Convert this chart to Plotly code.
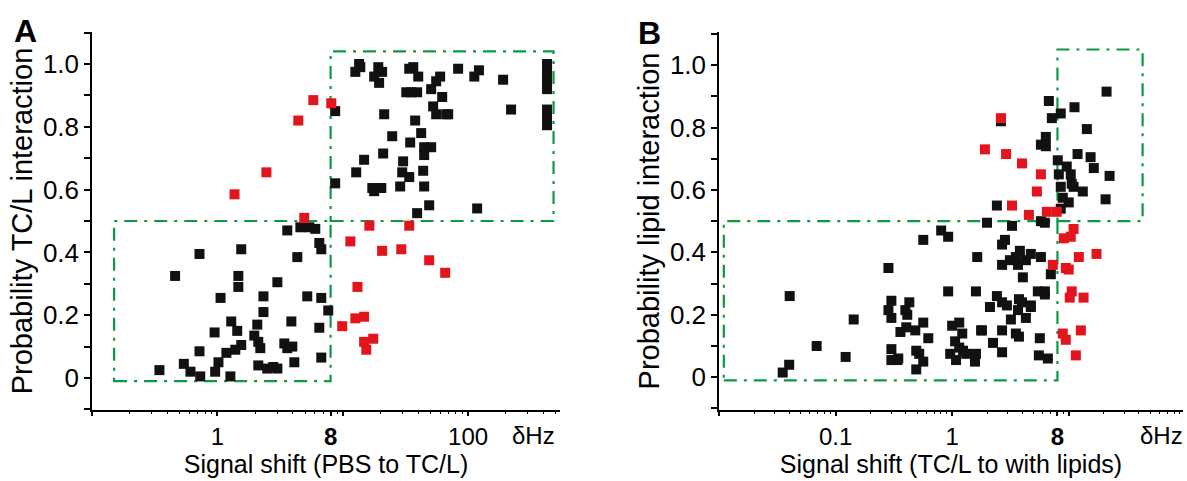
import plotly.graph_objects as go

# ---------------- Panel A data ----------------
a_black_x = [13.5, 13.8, 12.6, 19.2, 20.6, 17.8, 19.5, 36.5, 33.9, 40.0, 59.8, 55.6, 50.7, 83.2, 122, 112, 190,
             32.1, 35.1, 39.2, 62.1, 8.7, 21.4, 52.6, 55.6, 66.8, 69.3, 220, 37.8,
             426, 426, 426, 426, 426, 426, 426, 426,
             24.8, 42.2, 34.5, 44.6, 50.7, 44.6, 14.8, 21.0, 30.3, 12.8, 29.8, 33.9, 43.8, 8.7, 17.2, 17.8,
             20.3, 28.7, 44.6, 48.9, 39.2, 118,
             3.61, 4.59, 5.41, 6.04, 6.50, 6.74, 0.72, 1.55, 4.34, 0.46, 1.47, 1.47, 3.01, 1.06, 2.33, 5.21,
             6.74, 2.33, 7.66, 1.29, 1.44, 0.95, 2.08, 3.89, 6.50, 1.97, 2.12, 2.20, 3.42, 3.61, 3.96, 1.55,
             1.39, 1.18, 0.72, 1.02, 4.11, 6.74, 0.54, 0.345, 0.61, 0.73, 0.96, 1.27, 2.12, 2.50, 2.79, 3.01]
a_black_y = [1.00, 0.99, 0.975, 0.99, 0.975, 0.96, 0.94, 0.99, 0.985, 0.96, 0.96, 0.945, 0.92, 0.985, 0.98, 0.96, 0.95,
             0.91, 0.91, 0.91, 0.895, 0.85, 0.84, 0.865, 0.84, 0.84, 0.84, 0.855, 0.82,
             1.00, 0.98, 0.96, 0.94, 0.92, 0.855, 0.83, 0.805,
             0.77, 0.78, 0.75, 0.735, 0.735, 0.71, 0.695, 0.715, 0.69, 0.655, 0.655, 0.64, 0.66, 0.62, 0.605, 0.595,
             0.605, 0.61, 0.61, 0.55, 0.525, 0.54,
             0.47, 0.48, 0.48, 0.475, 0.43, 0.41, 0.395, 0.41, 0.385, 0.325, 0.325, 0.29, 0.305, 0.255, 0.26, 0.26,
             0.255, 0.21, 0.215, 0.18, 0.15, 0.145, 0.17, 0.18, 0.16, 0.135, 0.115, 0.095, 0.11, 0.095, 0.10, 0.105,
             0.09, 0.08, 0.085, 0.05, 0.05, 0.065, 0.045, 0.025, 0.02, 0.005, 0.02, 0.005, 0.04, 0.03, 0.035, 0.03]
a_red_x = [5.82, 8.10, 4.42, 2.46, 1.37, 4.93, 16.3, 33.9, 11.5, 20.6, 29.3, 48.9, 65.6, 13.1, 12.6, 14.8, 9.9,
           17.5, 14.8, 15.4]
a_red_y = [0.885, 0.875, 0.82, 0.655, 0.585, 0.51, 0.485, 0.485, 0.435, 0.405, 0.41, 0.375, 0.335, 0.29, 0.19,
           0.195, 0.165, 0.125, 0.115, 0.09]

# ---------------- Panel B data ----------------
b_black_x = [21.1, 6.75, 11.2, 8.54, 7.16, 2.62, 14.3, 6.36, 5.77, 6.36, 11.9, 15.4, 16.4, 22.4, 8.05, 9.61, 8.22,
             10.4, 8.54, 10.6, 11.0, 13.2, 20.7, 8.89, 10.0, 8.54, 2.42, 1.99, 3.26, 5.77, 6.24, 0.805, 0.924,
             0.565, 2.84, 2.68, 1.64, 3.81, 3.52, 3.13, 3.67, 4.29, 4.73, 5.77, 2.68, 4.04, 7.02, 5.43, 6.24, 6.24,
             2.42, 2.68, 2.95, 2.11, 3.74, 3.97, 4.73, 4.73, 3.67, 4.29, 3.19, 1.80, 2.68, 3.52, 3.74, 5.65, 2.24,
             2.68, 5.54, 6.62, 0.284, 0.0404, 0.143, 0.0688, 0.122, 0.040, 0.0352, 0.301, 0.284, 0.301, 0.397,
             0.429, 0.412, 0.404, 0.360, 0.483, 0.565, 0.624, 0.301, 0.301, 0.339, 0.345, 0.492, 0.522, 0.565,
             0.492, 0.924, 1.60, 1.00, 1.15, 1.22, 1.06, 1.15, 1.24, 1.32, 0.962, 1.08, 1.60, 1.57, 1.77]
b_black_y = [0.915, 0.885, 0.865, 0.845, 0.83, 0.82, 0.795, 0.77, 0.745, 0.74, 0.715, 0.705, 0.67, 0.645, 0.695,
             0.675, 0.65, 0.65, 0.61, 0.62, 0.61, 0.595, 0.57, 0.575, 0.56, 0.54, 0.55, 0.495, 0.485, 0.50, 0.495,
             0.47, 0.45, 0.44, 0.44, 0.425, 0.385, 0.405, 0.385, 0.375, 0.36, 0.375, 0.395, 0.385, 0.36, 0.32,
             0.33, 0.275, 0.275, 0.265, 0.26, 0.24, 0.23, 0.225, 0.25, 0.24, 0.23, 0.225, 0.215, 0.19, 0.185, 0.15,
             0.15, 0.14, 0.13, 0.125, 0.11, 0.08, 0.07, 0.06, 0.35, 0.26, 0.185, 0.10, 0.065, 0.04, 0.015, 0.245,
             0.215, 0.19, 0.215, 0.24, 0.20, 0.16, 0.145, 0.15, 0.175, 0.125, 0.09, 0.055, 0.055, 0.06, 0.085,
             0.075, 0.05, 0.025, 0.275, 0.275, 0.165, 0.175, 0.14, 0.115, 0.095, 0.085, 0.075, 0.075, 0.055, 0.075,
             0.05, 0.15]
b_red_x = [2.62, 1.91, 2.90, 3.97, 5.77, 5.33, 3.26, 4.55, 6.49, 7.89, 11.0, 9.06, 10.4, 12.2, 17.3, 7.30, 9.43,
           10.0, 10.6, 10.2, 13.4, 8.89, 12.7, 9.43, 11.5]
b_red_y = [0.83, 0.73, 0.715, 0.685, 0.65, 0.595, 0.55, 0.52, 0.53, 0.53, 0.475, 0.445, 0.45, 0.385, 0.395, 0.36,
           0.35, 0.345, 0.275, 0.255, 0.255, 0.14, 0.15, 0.12, 0.07]

# tick labels
a_tickvals = [0.1, 1, 8, 10, 100]
a_ticktext = ["", "1", "<b>8</b>", "", "100"]
b_tickvals = [0.01, 0.1, 1, 8, 10, 100]
b_ticktext = ["", "0.1", "1", "<b>8</b>", "", ""]
y_tickvals = [0, 0.2, 0.4, 0.6, 0.8, 1.0]
y_ticktext = ["0", "0.2", "0.4", "0.6", "0.8", "1.0"]

FONT = "Liberation Sans, Arial, sans-serif"
FS_TICK = 26
FS_XTICK = 24
FS_XT = 25
FS_YT = 29
BLACK = "#111111"
RED = "#e3141d"
GREEN = "#0a9a44"

def minors(lo, hi):
    out = []
    d = lo
    while d < hi:
        for m in range(2, 10):
            v = m * d
            if v <= hi:
                out.append(v)
        d *= 10
    return out

fig = go.Figure()
msz = 10
fig.add_trace(go.Scatter(x=a_black_x, y=a_black_y, mode="markers", xaxis="x", yaxis="y",
                         marker=dict(symbol="square", size=msz, color=BLACK), showlegend=False))
fig.add_trace(go.Scatter(x=a_red_x, y=a_red_y, mode="markers", xaxis="x", yaxis="y",
                         marker=dict(symbol="square", size=msz, color=RED), showlegend=False))
fig.add_trace(go.Scatter(x=b_black_x, y=b_black_y, mode="markers", xaxis="x2", yaxis="y2",
                         marker=dict(symbol="square", size=msz, color=BLACK), showlegend=False))
fig.add_trace(go.Scatter(x=b_red_x, y=b_red_y, mode="markers", xaxis="x2", yaxis="y2",
                         marker=dict(symbol="square", size=msz, color=RED), showlegend=False))

axis_common = dict(showline=True, linecolor="black", linewidth=1.5, ticks="outside", tickcolor="black",
                   tickwidth=1.5, showgrid=False, zeroline=False)
xfont = dict(family=FONT, size=FS_XTICK, color="black")
yfont = dict(family=FONT, size=FS_TICK, color="black")

fig.update_layout(
    width=1187, height=481,
    margin=dict(l=92, r=4, t=32, b=71),
    paper_bgcolor="white", plot_bgcolor="white",
    font=dict(family=FONT, size=FS_TICK, color="black"),
    xaxis=dict(type="log", domain=[0, 0.429], range=[-1, 2.733], tickmode="array",
               tickvals=a_tickvals, ticktext=a_ticktext, ticklen=4, tickfont=xfont,
               minor=dict(tickmode="array", tickvals=minors(0.1, 500), ticklen=2.5, tickcolor="black", tickwidth=1.2),
               title=dict(text="Signal shift (PBS to TC/L)", font=dict(family=FONT, size=FS_XT), standoff=3),
               anchor="y", **axis_common),
    yaxis=dict(domain=[0, 1], range=[-0.102, 1.102], tickmode="array", tickvals=y_tickvals,
               ticktext=y_ticktext, ticklen=6, tickfont=yfont,
               minor=dict(dtick=0.1, tick0=0, ticklen=6, tickcolor="black", tickwidth=1.5),
               title=dict(text="Probability TC/L interaction", font=dict(family=FONT, size=FS_YT), standoff=2),
               anchor="x", **axis_common),
    xaxis2=dict(type="log", domain=[0.5747, 1], range=[-2, 1.98], tickmode="array",
                tickvals=b_tickvals, ticktext=b_ticktext, ticklen=4, tickfont=xfont,
                minor=dict(tickmode="array", tickvals=minors(0.01, 100), ticklen=2.5, tickcolor="black", tickwidth=1.2),
                title=dict(text="Signal shift (TC/L to with lipids)", font=dict(family=FONT, size=FS_XT), standoff=3),
                anchor="y2", **axis_common),
    yaxis2=dict(domain=[0, 1], range=[-0.105, 1.106], tickmode="array", tickvals=y_tickvals,
                ticktext=y_ticktext, ticklen=6, tickfont=yfont,
                minor=dict(dtick=0.1, tick0=0, ticklen=6, tickcolor="black", tickwidth=1.5),
                title=dict(text="Probability lipid interaction", font=dict(family=FONT, size=FS_YT), standoff=2),
                anchor="x2", **axis_common),
)

# green dash-dot boxes
box = dict(type="rect", line=dict(color=GREEN, width=2.2, dash="13px,7px,3px,7px"),
           fillcolor="rgba(0,0,0,0)", layer="below")
fig.add_shape(xref="x", yref="y", x0=0.15, x1=8, y0=-0.01, y1=0.5, **box)
fig.add_shape(xref="x", yref="y", x0=8, x1=480, y0=0.5, y1=1.04, **box)
fig.add_shape(xref="x2", yref="y2", x0=0.011, x1=8, y0=-0.01, y1=0.5, **box)
fig.add_shape(xref="x2", yref="y2", x0=8, x1=43, y0=0.5, y1=1.05, **box)

# annotations: panel letters and units
fig.add_annotation(x=-0.061, y=1.003, xref="paper", yref="paper", text="<b>A</b>", showarrow=False,
                   font=dict(family=FONT, size=32), xanchor="center", yanchor="middle")
fig.add_annotation(x=0.511, y=0.997, xref="paper", yref="paper", text="<b>B</b>", showarrow=False,
                   font=dict(family=FONT, size=32), xanchor="center", yanchor="middle")
fig.add_annotation(x=0.405, y=-0.068, xref="paper", yref="paper", text="δHz", showarrow=False,
                   font=dict(family=FONT, size=FS_XTICK), xanchor="center", yanchor="middle")
fig.add_annotation(x=0.98, y=-0.068, xref="paper", yref="paper", text="δHz", showarrow=False,
                   font=dict(family=FONT, size=FS_XTICK), xanchor="center", yanchor="middle")

fig.write_html("out.html")
